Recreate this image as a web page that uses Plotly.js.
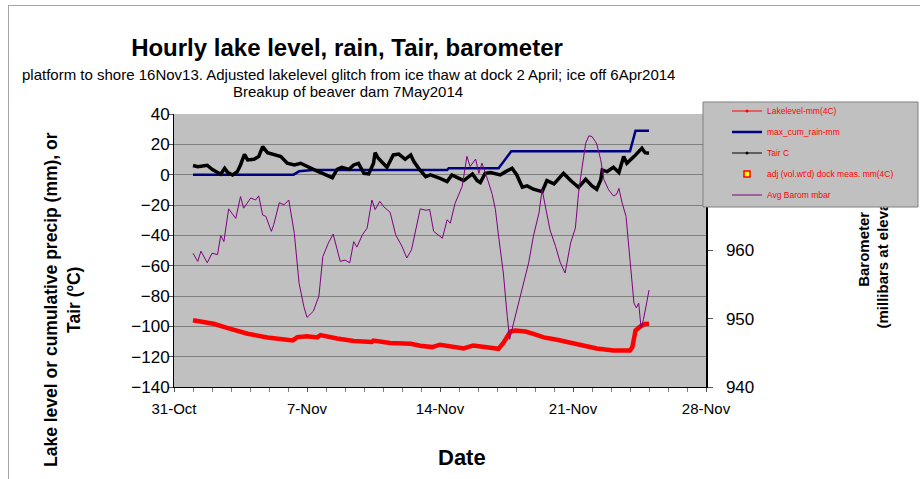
<!DOCTYPE html>
<html><head><meta charset="utf-8">
<script src="https://cdn.plot.ly/plotly-3.0.1.min.js"></script>
<style>html,body{margin:0;padding:0;background:#fff;}#chart{width:920px;height:479px;}</style>
</head><body><div id="chart"></div>
<script>
// ---------------- data ----------------
const lakeDates = ['2013-11-01 00:00','2013-11-02 02:00','2013-11-02 19:00','2013-11-03 21:00','2013-11-04 22:00','2013-11-05 19:00','2013-11-06 06:00','2013-11-06 12:00','2013-11-07 00:00','2013-11-07 13:00','2013-11-07 17:00','2013-11-08 14:00','2013-11-09 11:00','2013-11-10 10:00','2013-11-10 12:00','2013-11-11 09:00','2013-11-12 11:00','2013-11-12 23:00','2013-11-13 14:00','2013-11-14 00:00','2013-11-14 17:00','2013-11-15 06:00','2013-11-15 18:00','2013-11-16 11:00','2013-11-17 02:00','2013-11-17 08:00','2013-11-17 17:00','2013-11-17 23:00','2013-11-18 12:00','2013-11-18 22:00','2013-11-19 11:00','2013-11-20 04:00','2013-11-21 01:00','2013-11-22 06:00','2013-11-23 03:00','2013-11-24 00:00','2013-11-24 03:00','2013-11-24 05:00','2013-11-24 07:00','2013-11-24 13:00','2013-11-24 19:00','2013-11-25 00:00'];
const lakeValues = [-96,-98.3,-101,-104.9,-107.3,-108.9,-109.3,-107.1,-106.5,-107.3,-105.8,-108,-109.7,-110.3,-109.4,-111,-111.5,-112.8,-113.7,-112.1,-113.7,-114.6,-112.6,-113.7,-114.8,-111,-103.4,-102.7,-103.4,-104.9,-107.3,-108.9,-111,-114.6,-115.9,-115.9,-113.7,-106.7,-102.7,-100.1,-98.5,-98.3];

const rainDates = ['2013-11-01 00:00','2013-11-06 07:00','2013-11-06 14:00','2013-11-07 07:00','2013-11-14 09:00','2013-11-14 11:00','2013-11-17 02:00','2013-11-17 18:00','2013-11-24 00:00','2013-11-24 07:00','2013-11-25 00:00'];
const rainValues = [0,0,2.2,3.1,3.1,4.3,4.3,15.4,15.4,29,29];

const tairDates = ['2013-11-01 00:00','2013-11-01 06:00','2013-11-01 12:00','2013-11-01 18:00','2013-11-02 00:00','2013-11-02 07:00','2013-11-02 11:00','2013-11-02 16:00','2013-11-02 20:00','2013-11-03 02:00','2013-11-03 08:00','2013-11-03 12:00','2013-11-03 17:00','2013-11-03 21:00','2013-11-04 05:00','2013-11-04 11:00','2013-11-04 16:00','2013-11-04 22:00','2013-11-05 06:00','2013-11-05 15:00','2013-11-05 23:00','2013-11-06 08:00','2013-11-06 16:00','2013-11-07 00:00','2013-11-07 08:00','2013-11-07 21:00','2013-11-08 08:00','2013-11-08 14:00','2013-11-08 20:00','2013-11-09 05:00','2013-11-09 11:00','2013-11-09 17:00','2013-11-10 00:00','2013-11-10 06:00','2013-11-10 12:00','2013-11-10 14:00','2013-11-10 18:00','2013-11-11 05:00','2013-11-11 13:00','2013-11-11 20:00','2013-11-12 04:00','2013-11-12 11:00','2013-11-12 15:00','2013-11-12 21:00','2013-11-13 06:00','2013-11-13 12:00','2013-11-13 20:00','2013-11-14 00:00','2013-11-14 09:00','2013-11-14 15:00','2013-11-15 00:00','2013-11-15 06:00','2013-11-15 17:00','2013-11-15 23:00','2013-11-16 03:00','2013-11-16 09:00','2013-11-16 16:00','2013-11-17 04:00','2013-11-17 11:00','2013-11-17 19:00','2013-11-18 01:00','2013-11-18 08:00','2013-11-18 14:00','2013-11-18 22:00','2013-11-19 09:00','2013-11-19 15:00','2013-11-20 00:00','2013-11-20 12:00','2013-11-20 21:00','2013-11-21 07:00','2013-11-21 16:00','2013-11-22 00:00','2013-11-22 06:00','2013-11-22 11:00','2013-11-22 13:00','2013-11-22 19:00','2013-11-23 03:00','2013-11-23 10:00','2013-11-23 16:00','2013-11-23 20:00','2013-11-24 05:00','2013-11-24 09:00','2013-11-24 15:00','2013-11-24 19:00','2013-11-25 00:00'];
const tairValues = [6.0,5.3,5.7,6.2,3.5,1.4,0.3,4.2,1.4,-0.2,2.0,6.4,13.4,9.7,10.1,11.9,18.5,14.5,13.4,11.9,7.5,6.4,7.5,5.3,3.5,0.5,-2.0,3.5,4.9,3.5,6.4,7.5,0.9,0.5,7.5,14.5,10.8,4.9,13.0,13.6,10.1,13.0,8.6,4.2,-1.3,-0.2,-1.3,-2.4,-4.6,-0.2,-2.4,-3.9,0.5,-3.9,-5.2,0.9,1.4,-0.2,2.0,4.2,-0.2,-8.3,-7.4,-9.6,-11.2,-3.9,-6.1,0.9,-3.9,-8.3,-3.0,-7.4,-9.6,-3.5,3.1,2.0,4.9,1.4,11.9,7.5,11.9,14.1,17.4,14.5,14.1];

// no dock measurement falls inside this period: one empty (null) entry keeps the series in the legend
const dockDates = ['2013-11-01 00:00'];
const dockValues = [null];

const baroDates = ['2013-11-01 00:00','2013-11-01 06:00','2013-11-01 10:00','2013-11-01 14:00','2013-11-01 18:00','2013-11-02 00:00','2013-11-02 07:00','2013-11-02 11:00','2013-11-02 15:00','2013-11-02 21:00','2013-11-03 06:00','2013-11-03 12:00','2013-11-03 16:00','2013-11-04 01:00','2013-11-04 07:00','2013-11-04 11:00','2013-11-04 16:00','2013-11-04 20:00','2013-11-05 03:00','2013-11-05 06:00','2013-11-05 13:00','2013-11-05 19:00','2013-11-06 01:00','2013-11-06 08:00','2013-11-06 14:00','2013-11-06 20:00','2013-11-07 00:00','2013-11-07 08:00','2013-11-07 15:00','2013-11-07 20:00','2013-11-08 03:00','2013-11-08 09:00','2013-11-08 14:00','2013-11-08 18:00','2013-11-09 00:00','2013-11-09 06:00','2013-11-09 11:00','2013-11-09 15:00','2013-11-09 22:00','2013-11-10 04:00','2013-11-10 10:00','2013-11-10 14:00','2013-11-10 20:00','2013-11-11 01:00','2013-11-11 09:00','2013-11-11 16:00','2013-11-12 00:00','2013-11-12 06:00','2013-11-12 12:00','2013-11-12 15:00','2013-11-12 19:00','2013-11-12 23:00','2013-11-13 06:00','2013-11-13 11:00','2013-11-13 16:00','2013-11-13 22:00','2013-11-14 03:00','2013-11-14 09:00','2013-11-14 13:00','2013-11-14 19:00','2013-11-15 04:00','2013-11-15 10:00','2013-11-15 14:00','2013-11-15 21:00','2013-11-16 01:00','2013-11-16 05:00','2013-11-16 09:00','2013-11-16 13:00','2013-11-16 18:00','2013-11-16 22:00','2013-11-17 02:00','2013-11-17 08:00','2013-11-17 13:00','2013-11-17 16:00','2013-11-17 21:00','2013-11-18 03:00','2013-11-18 10:00','2013-11-18 16:00','2013-11-18 22:00','2013-11-19 05:00','2013-11-19 09:00','2013-11-19 13:00','2013-11-19 19:00','2013-11-20 02:00','2013-11-20 08:00','2013-11-20 14:00','2013-11-20 21:00','2013-11-21 03:00','2013-11-21 07:00','2013-11-21 11:00','2013-11-21 16:00','2013-11-21 20:00','2013-11-22 00:00','2013-11-22 04:00','2013-11-22 06:00','2013-11-22 11:00','2013-11-22 15:00','2013-11-22 21:00','2013-11-23 03:00','2013-11-23 07:00','2013-11-23 10:00','2013-11-23 14:00','2013-11-23 19:00','2013-11-24 00:00','2013-11-24 05:00','2013-11-24 08:00','2013-11-24 11:00','2013-11-24 14:00','2013-11-24 17:00','2013-11-24 21:00','2013-11-25 00:00'];
const baroValues = [959.6,958.4,959.9,959.1,958.2,959.6,959.4,962.2,961.3,966.1,964.7,967.9,966.2,967.7,967.4,968.0,965.2,965.0,962.8,963.8,967.0,966.7,967.4,962.5,955.2,951.8,950.2,951.1,953.3,959.1,961.1,962.4,960.1,958.4,958.6,958.2,961.3,960.5,962.3,963.3,967.4,966.0,967.2,966.4,965.6,962.3,960.6,958.9,960.1,961.8,964.0,966.1,965.9,966.0,962.8,962.3,961.8,964.5,964.0,966.9,969.4,973.8,972.3,973.4,971.3,972.8,971.6,970.1,968.2,966.0,962.1,956.7,950.3,947.0,949.4,952.3,955.7,958.2,962.1,965.5,968.9,966.4,963.0,960.6,958.2,956.7,961.1,963.3,968.4,971.8,975.7,976.8,976.7,976.0,975.6,973.3,970.4,968.9,968.0,968.2,969.1,967.0,965.0,958.6,952.3,951.6,952.3,948.6,949.9,952.3,954.2];

const seriesNames = ['Lakelevel-mm(4C)','max_cum_rain-mm','Tair C',"adj (vol.wt'd) dock meas. mm(4C)",'Avg Barom mbar'];
const xRange = ['2013-10-31','2013-11-28'];
const leftRange = [-140, 40];
const rightRange = [940, 980];

// ---------------- layout helpers (pixel -> paper) ----------------
const W = 920, H = 479, L = 174, R = 706, T = 114, B = 387;
const px = x => (x - L) / (R - L);
const py = y => (B - y) / (B - T);
const FONT = 'Liberation Sans, Arial, Helvetica, sans-serif';

const traces = [
  // legend entries (thin symbols as in the original legend)
  {x: [lakeDates[0]], y: [null], name: seriesNames[0], legendgroup: 'g1', mode: 'lines+markers',
   line: {color: '#ff0000', width: 1}, marker: {color: '#ff0000', size: 3}, yaxis: 'y'},
  {x: rainDates, y: rainValues, name: seriesNames[1], legendgroup: 'g2', mode: 'lines',
   line: {color: '#000080', width: 2.5}, yaxis: 'y'},
  {x: [tairDates[0]], y: [null], name: seriesNames[2], legendgroup: 'g3', mode: 'lines+markers',
   line: {color: '#000000', width: 1}, marker: {color: '#000000', size: 3}, yaxis: 'y'},
  {x: dockDates, y: dockValues, name: seriesNames[3], legendgroup: 'g4', mode: 'markers',
   marker: {symbol: 'square', size: 6, color: '#ffff00', line: {color: '#ff0000', width: 1.5}}, yaxis: 'y'},
  {x: baroDates, y: baroValues, name: seriesNames[4], legendgroup: 'g5', mode: 'lines',
   line: {color: '#800080', width: 1}, yaxis: 'y2'},
  // the dense hourly series, drawn thick
  {x: lakeDates, y: lakeValues, name: seriesNames[0], legendgroup: 'g1', showlegend: false, mode: 'lines',
   line: {color: '#ff0000', width: 4.5}, yaxis: 'y'},
  {x: tairDates, y: tairValues, name: seriesNames[2], legendgroup: 'g3', showlegend: false, mode: 'lines',
   line: {color: '#000000', width: 3.5}, yaxis: 'y'}
];

const layout = {
  width: W, height: H,
  margin: {l: L, r: W - R, t: T, b: H - B, pad: 0},
  paper_bgcolor: '#ffffff', plot_bgcolor: '#c0c0c0',
  font: {family: FONT, color: '#000000', size: 15},
  title: {text: 'Hourly lake level, rain, Tair, barometer', font: {family: FONT, size: 24, weight: 'bold', color: '#000'},
          xref: 'container', x: 347 / W, xanchor: 'center', yref: 'container', y: 1 - 48 / H, yanchor: 'middle'},
  xaxis: {type: 'date', range: xRange, tick0: '2013-10-31', dtick: 7 * 86400000, tickformat: '%-d-%b',
          ticks: 'outside', ticklen: 4, tickcolor: '#555', tickfont: {size: 15}, ticklabelstandoff: 4,
          showgrid: false, zeroline: false, showline: true, linecolor: '#000', linewidth: 1,
          minor: {dtick: 86400000, ticks: 'outside', ticklen: 4, tickcolor: '#808080', showgrid: false}},
  yaxis: {range: leftRange, dtick: 20, tick0: 0, ticks: 'outside', ticklen: 4, tickcolor: '#555',
          tickfont: {size: 17}, ticklabelstandoff: -4, gridcolor: '#808080', gridwidth: 1,
          zeroline: false, showline: true, linecolor: '#000', linewidth: 1},
  yaxis2: {range: rightRange, dtick: 10, tick0: 940, overlaying: 'y', side: 'right', anchor: 'x',
           ticks: 'outside', ticklen: 5, tickcolor: '#555', tickfont: {size: 17}, ticklabelstandoff: 10,
           showgrid: false, zeroline: false, showline: true, linecolor: '#000', linewidth: 1.5},
  showlegend: true,
  legend: {x: px(727), xanchor: 'left', y: py(96.5), yanchor: 'top', bgcolor: 'rgba(0,0,0,0)', borderwidth: 0,
           font: {family: FONT, size: 8.5, color: '#ff0000'}, traceorder: 'grouped', tracegroupgap: 2},
  shapes: [
    {type: 'rect', xref: 'paper', yref: 'paper', x0: px(703), x1: px(918), y0: py(207), y1: py(102),
     fillcolor: '#c0c0c0', line: {color: '#808080', width: 1}, layer: 'above'},
    {type: 'line', xref: 'paper', yref: 'paper', x0: px(8), x1: px(920), y0: py(5.5), y1: py(5.5),
     line: {color: '#a6a6a6', width: 1}, layer: 'above'},
    {type: 'line', xref: 'paper', yref: 'paper', x0: px(8.5), x1: px(8.5), y0: py(5.5), y1: py(479),
     line: {color: '#a6a6a6', width: 1}, layer: 'above'}
  ],
  annotations: [
    {text: 'platform to shore 16Nov13. Adjusted lakelevel glitch from ice thaw at dock 2 April; ice off 6Apr2014',
     xref: 'paper', yref: 'paper', x: px(348), y: py(74), xanchor: 'center', yanchor: 'middle', showarrow: false,
     font: {family: FONT, size: 15, color: '#000'}},
    {text: 'Breakup of beaver dam 7May2014',
     xref: 'paper', yref: 'paper', x: px(348), y: py(91), xanchor: 'center', yanchor: 'middle', showarrow: false,
     font: {family: FONT, size: 15, color: '#000'}},
    {text: 'Lake level or cumulative precip (mm), or<br>Tair (ºC)', textangle: -90,
     xref: 'paper', yref: 'paper', x: px(62), y: py(300), xanchor: 'center', yanchor: 'middle', showarrow: false,
     font: {family: FONT, size: 17.5, weight: 'bold', color: '#000'}},
    {text: 'Barometer<br>(millibars at elevation)', textangle: -90,
     xref: 'paper', yref: 'paper', x: px(872.5), y: py(250), xanchor: 'center', yanchor: 'middle', showarrow: false,
     font: {family: FONT, size: 15, weight: 'bold', color: '#000'}},
    {text: 'Date', xref: 'paper', yref: 'paper', x: px(462), y: py(457), xanchor: 'center', yanchor: 'middle',
     showarrow: false, font: {family: FONT, size: 22, weight: 'bold', color: '#000'}}
  ]
};

Plotly.newPlot('chart', traces, layout, {displayModeBar: false, staticPlot: true}).then(gd => {
  // In the original the legend box hides the top of the barometer axis title:
  // put that title underneath the upper shape layer (the legend box).
  const above = gd.querySelector('.layer-above');
  gd.querySelectorAll('.infolayer .annotation').forEach(a => {
    if (above && a.textContent.indexOf('Barometer') >= 0) above.parentNode.insertBefore(a, above);
  });
});
</script>
</body></html>
